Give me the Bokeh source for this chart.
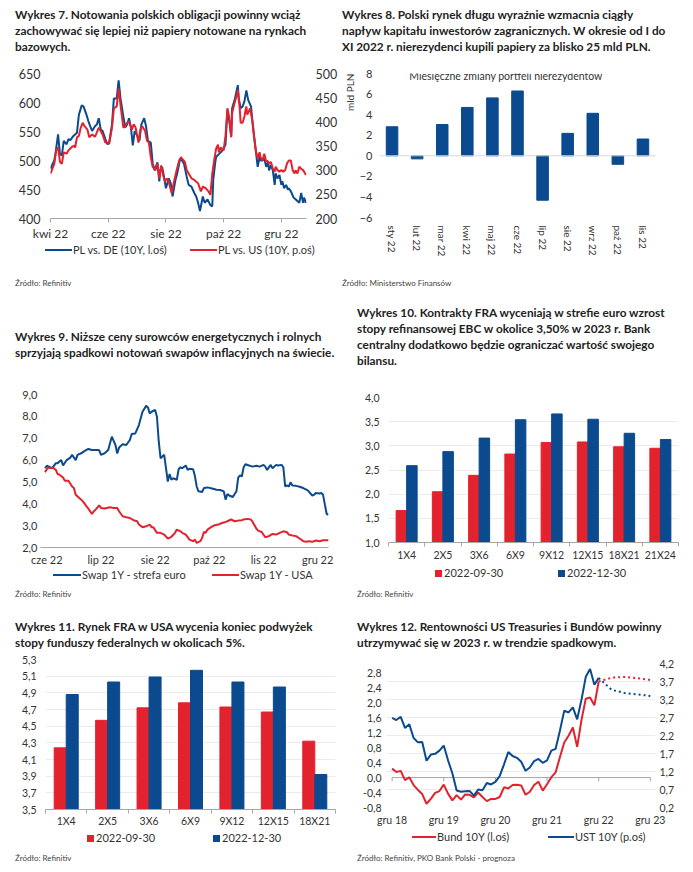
from bokeh.plotting import figure
from bokeh.layouts import column, row
from bokeh.models import (Range1d, FactorRange, LinearAxis, FixedTicker, CustomJSTickFormatter,
                          Span, Label, Title, Grid, Div)
from bokeh.embed import file_html
from bokeh.resources import INLINE

# ---------------- data ----------------
# Wykres 7 (days since 1 Apr 2022)
p7_tick_days = [0, 61, 122, 183, 244]
p7_tick_labels = ["kwi 22", "cze 22", "sie 22", "paź 22", "gru 22"]
pl_de_day = [0,4,5,8,10,12,14,17,19,21, 24,26,28,30,33,35,38,40,42,44, 47,49,51,53,55,58,60,62,65,67,
             70,72,74,77,79,81,83,85,87,89, 92,94,96,99,101,103,106,108,110,113, 115,116,118,120,122,125,127,129,132,134,
             137,139,141,144,146,149,152,154,156,158, 161,163,166,169,171,172,174,175,178,180,
             183,185,187,189,191,192,195,198,199,201, 203,205,207,209,212,214,215,217,219,221,
             222,224,226,228,230,231,233,235,237,238, 240,242,244,245,247,249,251,252,254,257, 259,261,263,265,267,268,270]
pl_de_val = [486,500,509,545,511,509,534,528,537,535, 542,545,548,579,595,593,579,568,559,551,
             559,562,573,554,551,537,528,531,562,607, 607,638,607,576,557,562,573,557,526,551,
             542,534,562,573,559,534,531,495,483,497, 464,483,489,472,452,469,461,438,466,478,
             503,500,495,472,458,455,444,438,427,413, 438,427,433,423,421,466,495,506,511,514,
             520,528,587,568,542,590,607,630,607,590, 593,602,621,604,593,557,545,517,489,506,
             500,500,503,489,497,483,492,483,458,478, 469,475,458,464,452,458,450,452,447,436,
             433,430,427,444,427,436,427]
pl_us_day = [0,4,6,8,10,12,14,17,19,22, 25,26,28,30,32,34,36,39,41,44, 47,49,51,53,55,58,60,62,65,67,
             70,72,74,77,79,81,83,86,88,90, 93,95,97,100,102,104,106,108,111,113, 115,117,119,121,123,125,128,131,133,136,
             138,139,142,144,147,149,152,154,156,159, 161,164,167,169,171,173,175,177,178,180,
             183,185,187,189,191,192,194,196,198,200, 201,203,205,207,208,211,214,215,217,219,
             221,222,224,226,228,229,231,233,235,237, 238,240,242,244,246,248,250,252,254,256, 258,259,261,263,265,267,268,270]
pl_us_val = [293,313,341,347,317,313,337,334,341,347, 351,347,368,371,388,398,391,384,368,374,
             369,378,388,381,374,357,357,354,388,428, 432,469,435,388,391,398,401,384,395,388,
             357,384,391,381,361,357,327,307,300,314, 283,310,290,276,283,276,253,280,297,320,
             327,324,317,300,290,283,280,276,273,256, 266,263,256,249,293,320,344,353,337,347,
             341,371,428,408,368,418,435,449,466,428, 398,398,411,432,415,428,395,371,341,324,
             337,327,320,334,317,320,314,317,303,297, 307,300,297,300,297,300,314,320,320,300,
             293,300,293,307,303,300,297,290]
p7_left_ticks = [400, 450, 500, 550, 600, 650]
p7_right_ticks = [200, 250, 300, 350, 400, 450, 500]
p7_series = ["PL vs. DE (10Y, l.oś)", "PL vs. US (10Y, p.oś)"]

# Wykres 8
months8 = ["sty 22", "lut 22", "mar 22", "kwi 22", "maj 22", "cze 22", "lip 22", "sie 22", "wrz 22", "paź 22", "lis 22"]
flows8 = [2.82, -0.3, 3.04, 4.7, 5.63, 6.3, -4.32, 2.18, 4.13, -0.83, 1.63]
p8_ticks = [-6, -4, -2, 0, 2, 4, 6, 8]

# Wykres 9 (trading-day index)
p9_tick_idx = [1, 31, 61, 91, 121, 151]
p9_tick_labels = ["cze 22", "lip 22", "sie 22", "paź 22", "lis 22", "gru 22"]
eur_idx = [0,1,3,4,6,7,9,10,12,14, 15,17,18,20,22,24,26,29,30,31, 33,35,36,37,39,40,41,43,45,47,
           48,50,52,53,54,56,57,58,59,61, 62,63,64,65,66,67,68,69,70,71, 73,74,75,76,78,79,80,82,83,84,
           85,87,88,90,93,95,97,99,100,101, 102,104,106,107,108,109,110,111,113,115,
           117,119,121,122,123,125,126,128,129,131, 132,133,134,135,136,137,139,141,143,145,
           146,148,149,150,152,153,154,155,156,157]
eur_swap = [5.63,5.74,5.66,5.63,5.86,5.86,6.0,5.75,6.0,6.11, 6.24,6.0,6.24,6.31,6.42,6.51,6.46,6.46,6.45,6.24,
            6.31,6.46,6.77,7.07,6.69,6.3,6.57,6.72,6.69,6.92, 7.19,7.22,7.6,7.91,8.21,8.48,8.41,8.13,8.21,8.29,
            7.98,6.84,6.08,6.16,6.24,5.63,5.02,5.36,5.1,5.17, 5.1,5.58,5.67,5.63,5.75,5.55,5.6,5.58,5.28,4.79,
            4.57,4.54,4.72,4.75,4.69,4.64,4.63,4.57,4.19,4.44, 4.38,4.31,4.57,5.2,5.3,5.25,5.67,5.81,5.75,5.7,
            5.74,5.7,5.78,5.7,5.55,5.78,5.63,5.78,5.75,5.78, 5.67,4.79,4.84,4.79,4.98,4.84,4.82,4.78,4.72,4.64,
            4.57,4.38,4.41,4.49,4.47,4.49,4.41,3.96,3.53,3.5]
usd_idx = [0,1,2,3,4,6,7,8,10,11, 13,15,16,17,19,21,23,24,26,27, 28,30,31,33,36,38,40,41,43,45,
           47,49,51,52,54,56,58,59,60,62, 64,66,68,70,72,73,75,76,78,80, 82,83,
           84,86,87,88,89,90,92,94,96,98, 100,101,103,105,107,109,110,112,114,115,
           117,118,120,122,124,126,128,130,132,134, 135,137,139,141,143,145,146,148,150,152, 154,157]
usd_swap = [5.45,5.58,5.66,5.63,5.67,5.55,5.36,5.33,5.2,5.05, 5.05,4.79,4.72,4.41,4.26,4.11,3.88,3.78,3.53,3.66,
            3.73,3.93,3.81,3.78,3.84,3.81,3.81,3.66,3.43,3.38, 3.35,3.25,3.2,3.05,2.93,2.97,3.05,2.93,2.93,2.67,
            2.67,2.59,2.41,2.49,2.67,2.82,2.74,2.67,2.59,2.36, 2.29,2.36,
            2.21,2.29,2.44,2.71,2.67,2.82,2.93,3.02,3.05,3.12, 3.17,3.2,3.28,3.2,3.23,3.25,3.28,3.31,3.28,3.17,
            2.87,2.77,2.71,2.47,2.52,2.62,2.59,2.67,2.74,2.7, 2.59,2.55,2.52,2.41,2.29,2.26,2.29,2.26,2.32,2.29,
            2.33,2.33]
p9_ticks = [2, 3, 4, 5, 6, 7, 8, 9]
p9_series = ["Swap 1Y - strefa euro", "Swap 1Y - USA"]

# Wykres 10
fra_eur_cats = ["1X4", "2X5", "3X6", "6X9", "9X12", "12X15", "18X21", "21X24"]
fra_eur_sep = [1.66, 2.05, 2.39, 2.83, 3.07, 3.08, 2.98, 2.95]
fra_eur_dec = [2.59, 2.88, 3.16, 3.54, 3.66, 3.55, 3.26, 3.13]
p10_ticks = [1.0, 1.5, 2.0, 2.5, 3.0, 3.5, 4.0]

# Wykres 11
fra_usd_cats = ["1X4", "2X5", "3X6", "6X9", "9X12", "12X15", "18X21"]
fra_usd_sep = [4.24, 4.57, 4.72, 4.78, 4.73, 4.67, 4.32]
fra_usd_dec = [4.88, 5.03, 5.09, 5.17, 5.03, 4.97, 3.92]
p11_ticks = [3.5, 3.7, 3.9, 4.1, 4.3, 4.5, 4.7, 4.9, 5.1, 5.3]
fra_series = ["2022-09-30", "2022-12-30"]

# Wykres 12 (months since Dec 2018)
m12 = list(range(49))
bund10 = [0.24, 0.15,0.18,-0.07,0.01,-0.20,-0.33,-0.44,-0.70,-0.57,-0.41,-0.36,-0.19,
          -0.43,-0.61,-0.47,-0.59,-0.45,-0.46,-0.53,-0.40,-0.52,-0.63,-0.57,-0.57,
          -0.52,-0.26,-0.29,-0.20,-0.19,-0.21,-0.46,-0.38,-0.20,-0.11,-0.35,-0.18,
          0.01,0.14,0.55,0.94,1.12,1.34,0.82,1.54,2.11,2.14,1.93,2.57]
ust10 = [2.69, 2.63,2.72,2.41,2.51,2.13,2.01,2.02,1.50,1.67,1.69,1.78,1.92,
         1.51,1.15,0.67,0.64,0.65,0.66,0.53,0.70,0.68,0.88,0.84,0.91,
         1.07,1.40,1.74,1.63,1.58,1.47,1.22,1.31,1.49,1.55,1.44,1.51,
         1.78,1.83,2.34,2.89,2.84,2.98,2.65,3.19,3.83,4.05,3.61,3.80]
m12_fc = [48, 51, 54, 57, 60]
bund10_fc = [2.57, 2.67, 2.69, 2.66, 2.61]
ust10_fc = [3.80, 3.47, 3.38, 3.34, 3.30]
p12_tick_m = [0, 12, 24, 36, 48, 60]
p12_tick_labels = ["gru 18", "gru 19", "gru 20", "gru 21", "gru 22", "gru 23"]
p12_left_ticks = [-0.8, -0.4, 0.0, 0.4, 0.8, 1.2, 1.6, 2.0, 2.4, 2.8]
p12_right_ticks = [0.2, 0.7, 1.2, 1.7, 2.2, 2.7, 3.2, 3.7, 4.2]
p12_series = ["Bund 10Y (l.oś)", "UST 10Y (p.oś)"]

titles = {
    7: ["Wykres 7. Notowania polskich obligacji powinny wciąż",
        "zachowywać się lepiej niż papiery notowane na rynkach", "bazowych."],
    8: ["Wykres 8. Polski rynek długu wyraźnie wzmacnia ciągły",
        "napływ kapitału inwestorów zagranicznych. W okresie od I do",
        "XI 2022 r. nierezydenci kupili papiery za blisko 25 mld PLN."],
    9: ["Wykres 9. Niższe ceny surowców energetycznych i rolnych",
        "sprzyjają spadkowi notowań swapów inflacyjnych na świecie."],
    10: ["Wykres 10. Kontrakty FRA wyceniają w strefie euro wzrost",
         "stopy refinansowej EBC w okolice 3,50% w 2023 r. Bank",
         "centralny dodatkowo będzie ograniczać wartość swojego", "bilansu."],
    11: ["Wykres 11. Rynek FRA w USA wycenia koniec podwyżek",
         "stopy funduszy federalnych w okolicach 5%."],
    12: ["Wykres 12. Rentowności US Treasuries i Bundów powinny",
         "utrzymywać się w 2023 r. w trendzie spadkowym."],
}
sources = {7: "Źródło: Refinitiv", 8: "Źródło: Ministerstwo Finansów", 9: "Źródło: Refinitiv",
           10: "Źródło: Refinitiv", 11: "Źródło: Refinitiv",
           12: "Źródło: Refinitiv, PKO Bank Polski - prognoza"}

# ---------------- style ----------------
FONT = "Lato"
BLUE = "#0b4a8e"
RED = "#e2222d"
TXT = "#333333"
AX = "#a6a6a6"
GRIDC = "#ebebeb"


def comma():
    return CustomJSTickFormatter(code="return tick.toFixed(1).replace('.', ',');")


def style_axis(ax, size="10.5px", standoff=4):
    ax.major_label_text_font = FONT
    ax.major_label_text_font_size = size
    ax.major_label_text_color = TXT
    ax.axis_line_color = None
    ax.major_tick_line_color = None
    ax.minor_tick_line_color = None
    ax.major_tick_out = 0
    ax.minor_tick_out = 0
    ax.major_tick_in = 0
    ax.minor_tick_in = 0
    ax.major_label_standoff = standoff


def make_fig(w, h, bl, br, bt, bb, x_range, y_range):
    p = figure(width=w, height=h, min_border_left=bl, min_border_right=br,
               min_border_top=bt, min_border_bottom=bb, x_range=x_range, y_range=y_range,
               output_backend="svg", toolbar_location=None, tools="")
    p.title.text = ""
    p.title.standoff = 0
    p.outline_line_color = None
    p.grid.visible = False
    for ax in p.axis:
        style_axis(ax)
    return p


# ---------- HTML text blocks (titles, legends, sources) ----------
def txt(x, yc, text, size, weight="normal", color=TXT, lh=16):
    return (f'<div style="position:absolute;left:{x}px;top:{yc - lh / 2}px;line-height:{lh}px;'
            f'font-size:{size}px;font-weight:{weight};color:{color};white-space:nowrap;">{text}</div>')


def glyph(x, yc, w, h, color):
    return (f'<div style="position:absolute;left:{x}px;top:{yc - h / 2}px;width:{w}px;height:{h}px;'
            f'background:{color};"></div>')


def block(w, h, parts):
    html = (f'<div style="position:relative;width:{w}px;height:{h}px;font-family:{FONT},sans-serif;">'
            + "".join(parts) + '</div>')
    return Div(text=html, width=w, height=h, margin=0)


def header(w, h, lines, x, y0, dy=15.8):
    return block(w, h, [txt(x, y0 + i * dy, t, 11.8, "bold", "#222222") for i, t in enumerate(lines)])


def footer(w, h, src, x, ysrc, series=(), colors=(), glyph_x=(), label_x=(), yleg=0, kind="line"):
    parts = []
    for name, col, gx, lx in zip(series, colors, glyph_x, label_x):
        if kind == "line":
            parts.append(glyph(gx, yleg, lx - gx - 1, 2, col))
        else:
            parts.append(glyph(gx, yleg, 7, 7, col))
        parts.append(txt(lx, yleg, name, 11))
    parts.append(txt(x, ysrc, src, 8, "normal", "#444444", 10))
    return block(w, h, parts)


# ---------------- Wykres 7 ----------------
h7 = header(332, 57, titles[7], 7, 7)
p7 = make_fig(332, 178, 42, 34, 8, 22, Range1d(0, 270.6), Range1d(400, 650))
p7.extra_y_ranges = {"r": Range1d(200, 500)}
p7.left[0].ticker = FixedTicker(ticks=p7_left_ticks)
style_axis(p7.left[0], "12.5px", 10)
ax7r = LinearAxis(y_range_name="r", ticker=FixedTicker(ticks=p7_right_ticks))
style_axis(ax7r, "12.5px", 9)
p7.add_layout(ax7r, "right")
xa = p7.below[0]
xa.ticker = FixedTicker(ticks=p7_tick_days)
xa.major_label_overrides = dict(zip(p7_tick_days, p7_tick_labels))
style_axis(xa, "12px", 3)
xa.axis_line_color = AX
xa.major_tick_line_color = AX
xa.major_tick_out = 4
p7.line(pl_de_day, pl_de_val, color=BLUE, line_width=2)
p7.line(pl_us_day, pl_us_val, color=RED, line_width=2, y_range_name="r")
f7 = footer(332, 47, sources[7], 7, 40, p7_series, [BLUE, RED], [37, 182], [65, 210], 7)

# ---------------- Wykres 8 ----------------
h8 = header(345, 57, titles[8], 2, 7)
p8 = make_fig(345, 194, 38, 30, 8, 40, FactorRange(factors=months8), Range1d(-6, 8))
p8.add_layout(Span(location=0, dimension="width", line_color="#d9d9d9", line_width=1))
p8.vbar(x=months8, top=flows8, width=0.46, color=BLUE)
p8.left[0].ticker = FixedTicker(ticks=p8_ticks)
style_axis(p8.left[0], "11px", 7)
style_axis(p8.below[0], "10px", 8)
p8.below[0].major_label_orientation = "vertical"
p8.add_layout(Label(x=5.04, y=7.8, text="Miesięczne zmiany portfeli nierezydentów", text_align="center",
                    text_baseline="middle", text_font=FONT, text_font_size="10.5px", text_color=TXT))
p8.add_layout(Title(text="mld PLN", align="right", text_font=FONT, text_font_size="10px",
                    text_font_style="normal", text_color=TXT, standoff=2), "left")
f8 = footer(345, 31, sources[8], 2, 24)

# ---------------- Wykres 9 ----------------
h9 = header(332, 96, titles[9], 7, 47)
p9 = make_fig(332, 182, 32, 12, 8, 20, Range1d(-2.5, 157), Range1d(2, 9))
p9.left[0].ticker = FixedTicker(ticks=p9_ticks)
p9.left[0].formatter = comma()
style_axis(p9.left[0], "11px", 3)
xa = p9.below[0]
xa.ticker = FixedTicker(ticks=p9_tick_idx)
xa.major_label_overrides = dict(zip(p9_tick_idx, p9_tick_labels))
style_axis(xa, "11px", 5)
xa.axis_line_color = AX
p9.line(eur_idx, eur_swap, color=BLUE, line_width=2)
p9.line(usd_idx, usd_swap, color=RED, line_width=2)
f9 = footer(332, 32, sources[9], 7, 26, p9_series, [BLUE, RED], [45, 204], [74, 232], 7)


# ---------------- bar charts ----------------
def fra_chart(w, h, bl, br, bt, bb, cats, s1, s2, ticks, standoff):
    n = len(cats)
    xs = list(range(n))
    p = make_fig(w, h, bl, br, bt, bb, Range1d(-0.5, n - 0.5), Range1d(ticks[0], ticks[-1]))
    p.ygrid.visible = True
    p.ygrid.ticker = FixedTicker(ticks=ticks)
    p.ygrid.grid_line_color = GRIDC
    p.left[0].ticker = FixedTicker(ticks=ticks)
    p.left[0].formatter = comma()
    style_axis(p.left[0], "10.5px", 9)
    xa = p.below[0]
    xa.ticker = FixedTicker(ticks=xs, minor_ticks=[i - 0.5 for i in range(n + 1)])
    xa.major_label_overrides = dict(zip(xs, cats))
    style_axis(xa, "10.5px", standoff)
    xa.axis_line_color = AX
    xa.minor_tick_line_color = AX
    xa.minor_tick_out = 4
    p.vbar(x=[i - 0.145 for i in xs], top=s1, bottom=ticks[0], width=0.29, color=RED)
    p.vbar(x=[i + 0.145 for i in xs], top=s2, bottom=ticks[0], width=0.29, color=BLUE)
    return p


h10 = header(345, 99, titles[10], 17, 23.3)
p10 = fra_chart(345, 174, 48, 7, 8, 19, fra_eur_cats, fra_eur_sep, fra_eur_dec, p10_ticks, 2)
f10 = footer(345, 37, sources[10], 17, 31, fra_series, [RED, BLUE], [95, 218], [104, 227], 10, "bar")

h11 = header(332, 51, titles[11], 7, 27)
p11 = fra_chart(332, 178, 37, 5, 8, 18, fra_usd_cats, fra_usd_sep, fra_usd_dec, p11_ticks, 1)
f11 = footer(332, 33, sources[11], 7, 29, fra_series, [RED, BLUE], [79, 205], [88, 214], 9, "bar")

# ---------------- Wykres 12 ----------------
h12 = header(345, 55, titles[12], 17, 27)
p12 = make_fig(345, 173, 46, 30, 8, 19, Range1d(-1.3, 61.2), Range1d(-0.8, 3.05))
p12.extra_y_ranges = {"r": Range1d(0.2, 4.2)}
p12.left[0].ticker = FixedTicker(ticks=p12_left_ticks)
p12.left[0].formatter = comma()
style_axis(p12.left[0], "10.5px", 5)
ax12r = LinearAxis(y_range_name="r", ticker=FixedTicker(ticks=p12_right_ticks), formatter=comma())
style_axis(ax12r, "10.5px", 4)
p12.add_layout(ax12r, "right")
p12.add_layout(Grid(dimension=1, ticker=FixedTicker(ticks=p12_right_ticks), y_range_name="r",
                    grid_line_color=GRIDC))
xa = p12.below[0]
xa.ticker = FixedTicker(ticks=p12_tick_m)
xa.major_label_overrides = dict(zip(p12_tick_m, p12_tick_labels))
style_axis(xa, "10.5px", 6)
p12.line([p12_tick_m[0], p12_tick_m[-1]], [0, 0], color=AX, line_width=1)
p12.segment(x0=p12_tick_m, y0=[0] * len(p12_tick_m), x1=p12_tick_m, y1=[-0.1] * len(p12_tick_m),
            color=AX, line_width=1)
p12.line(m12, bund10, color=RED, line_width=2)
p12.line(m12, ust10, color=BLUE, line_width=2, y_range_name="r")
p12.line(m12_fc, bund10_fc, color=RED, line_width=2, line_dash="2 3")
p12.line(m12_fc, ust10_fc, color=BLUE, line_width=2, line_dash="2 3", y_range_name="r")
f12 = footer(345, 34, sources[12], 17, 30, p12_series, [RED, BLUE], [72, 208], [97, 235], 9)

# each band of panels is its own root, so plot frames are laid out independently;
# the margins reproduce the 8px page offset of the original
band1 = row(column(h7, p7, f7), column(h8, p8, f8), margin=(8, 0, 0, 8))
band2 = row(column(h9, p9, f9), column(h10, p10, f10), margin=(0, 0, 0, 8))
band3 = row(column(h11, p11, f11), column(h12, p12, f12), margin=(0, 0, 0, 8))
open("out.html", "w").write(file_html([band1, band2, band3], INLINE))
